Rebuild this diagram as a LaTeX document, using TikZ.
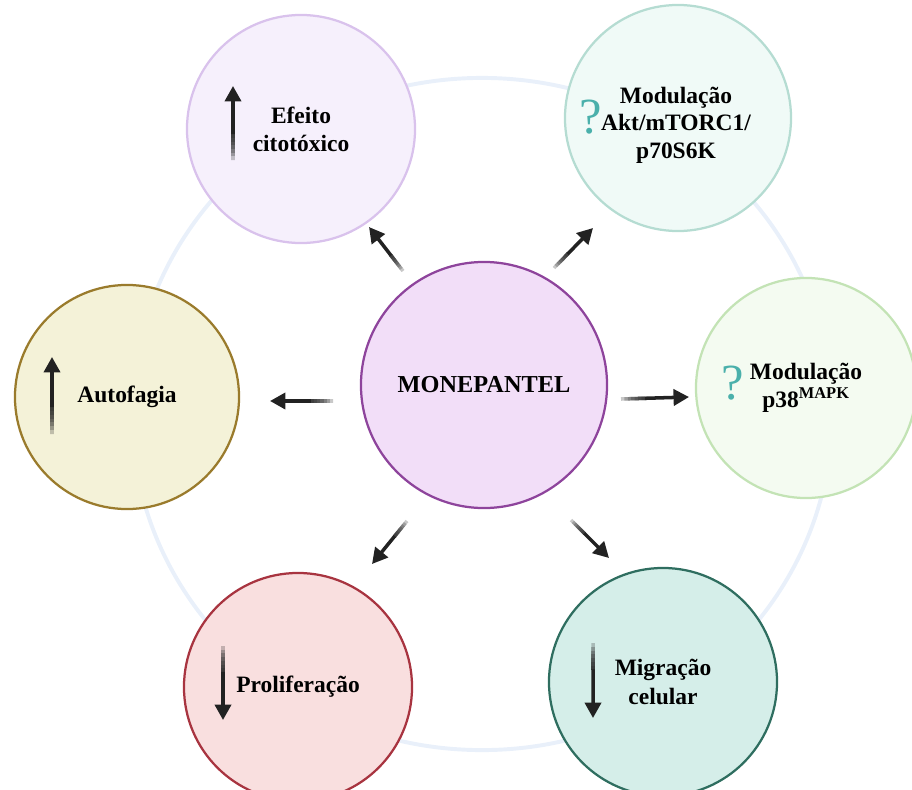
\documentclass[tikz,border=0pt]{standalone}
\usepackage{fontspec}
\setmainfont{Liberation Serif}
\usetikzlibrary{arrows.meta,calc}
\definecolor{ringblue}{HTML}{E9F0FA}
\definecolor{arrowdark}{HTML}{222222}
\definecolor{qteal}{HTML}{4AB0AB}
\definecolor{efeitofill}{HTML}{F6F0FC}
\definecolor{efeitoline}{HTML}{D9C2EC}
\definecolor{aktfill}{HTML}{F0FAF7}
\definecolor{aktline}{HTML}{B5DCD2}
\definecolor{pfill}{HTML}{F4FBF1}
\definecolor{pline}{HTML}{C3E3B5}
\definecolor{autofill}{HTML}{F4F2D8}
\definecolor{autoline}{HTML}{9A7B2C}
\definecolor{prolfill}{HTML}{F9DFDF}
\definecolor{prolline}{HTML}{A83440}
\definecolor{migrfill}{HTML}{D5EEE9}
\definecolor{migrline}{HTML}{2F6E60}
\definecolor{monofill}{HTML}{F2DEF8}
\definecolor{monoline}{HTML}{8E449C}
\tikzset{bubble/.style={circle, line width=1.6pt, inner sep=0pt, align=center,
   font=\fontsize{16.7}{20}\selectfont\bfseries},
 bubbletext/.style={inner sep=0pt, align=center, font=\fontsize{16.7}{19.5}\selectfont\bfseries},
 qmark/.style={text=qteal, inner sep=0pt, font=\fontsize{36}{36}\selectfont},
 tipdark/.style={-{Triangle[length=11pt,width=11.5pt]}, line width=2.5pt, draw=arrowdark},
 }
\newcommand{\fadearrow}[2]{%
  \foreach \k [evaluate=\k as \fa using (\k-1)/20] in {1,...,7} {
    \draw[line width=2.5pt, draw=arrowdark, draw opacity=0.25]
      ($(#1)!\fa!(#2)$) -- ($(#1)!0.36!(#2)$);
  }
  \draw[tipdark] ($(#1)!0.35!(#2)$) -- (#2);
}

\begin{document}
\begin{tikzpicture}[x=0.025cm, y=-0.025cm]
    \useasboundingbox (0, 0) rectangle (912, 789);
    \draw[ringblue, line width=2.8pt] (482, 414) ellipse [x radius=8.75cm, y radius=8.4cm];

    \node[bubble, fill=monofill, draw=monoline, minimum size=6.15cm,
      font=\fontsize{17.3}{20}\selectfont\bfseries] (mono) at (484, 385) {MONEPANTEL};
    \node[bubble, fill=efeitofill, draw=efeitoline, minimum size=5.7cm] (efeito) at (301, 129) {Efeito\\citotóxico};
    \node[bubble, fill=aktfill, draw=aktline, minimum size=5.65cm] (akt) at (678, 118) {};
    \node[bubbletext] (akt-t) at (676, 125) {Modulação\\Akt/mTORC1/\\p70S6K};
    \node[bubble, fill=pfill, draw=pline, minimum size=5.5cm] (p38) at (806, 388) {Modulação\\p38\textsuperscript{MAPK}};
    \node[bubble, fill=autofill, draw=autoline, minimum size=5.6cm] (auto) at (127, 397) {Autofagia};
    \node[bubble, fill=prolfill, draw=prolline, minimum size=5.7cm] (prol) at (298, 687) {Proliferação};
    \node[bubble, fill=migrfill, draw=migrline, minimum size=5.7cm] (migr) at (663, 682) {Migração\\celular};

    \node[qmark] (q-akt) at (591, 117) {?};
    \node[qmark] (q-p38) at (733, 383) {?};

    \coordinate (ef-s) at (233, 160);
    \coordinate (ef-e) at (233, 86);
    \coordinate (au-s) at (52, 434);
    \coordinate (au-e) at (52, 357);
    \coordinate (pr-s) at (223, 646);
    \coordinate (pr-e) at (223, 720);
    \coordinate (mi-s) at (593, 643);
    \coordinate (mi-e) at (593, 718);

    \coordinate (ul-s) at (403, 271);
    \coordinate (ul-e) at (369, 227);
    \coordinate (ur-s) at (554, 268);
    \coordinate (ur-e) at (593, 228);
    \coordinate (l-s) at (333, 401);
    \coordinate (l-e) at (270, 401);
    \coordinate (r-s) at (621, 399);
    \coordinate (r-e) at (689, 397);
    \coordinate (ll-s) at (407, 521);
    \coordinate (ll-e) at (372, 564);
    \coordinate (lr-s) at (571, 520);
    \coordinate (lr-e) at (609, 558);

    \fadearrow{ef-s}{ef-e}
    \fadearrow{au-s}{au-e}
    \fadearrow{pr-s}{pr-e}
    \fadearrow{mi-s}{mi-e}
    \fadearrow{ul-s}{ul-e}
    \fadearrow{ur-s}{ur-e}
    \fadearrow{l-s}{l-e}
    \fadearrow{r-s}{r-e}
    \fadearrow{ll-s}{ll-e}
    \fadearrow{lr-s}{lr-e}
\end{tikzpicture}
\end{document}
